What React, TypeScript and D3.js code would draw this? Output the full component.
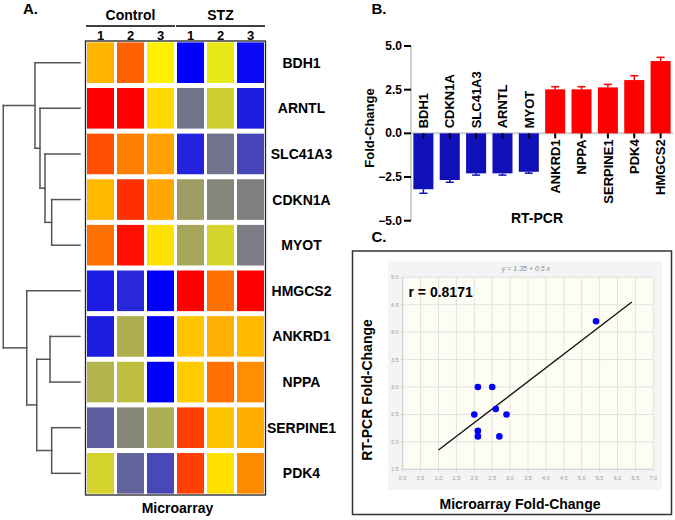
import React from "react";
import * as d3 from "d3";

// ---------- Data ----------
const genes = ["BDH1", "ARNTL", "SLC41A3", "CDKN1A", "MYOT", "HMGCS2", "ANKRD1", "NPPA", "SERPINE1", "PDK4"];
const groups = ["Control", "STZ"];
const replicates = ["1", "2", "3"];
// relative expression (blue -1, gray 0, yellow 1, red 2)
const heatBDH1 = [1.29, 1.61, 1.06, -1.0, 0.82, -0.93];
const heatARNTL = [2.0, 2.0, 1.15, -0.09, 0.62, -0.77];
const heatSLC41A3 = [1.69, 1.5, 1.37, -0.73, -0.11, -0.45];
const heatCDKN1A = [1.27, 1.81, 1.35, 0.22, 0.05, -0.01];
const heatMYOT = [1.56, 1.94, 1.11, 0.3, 0.66, -0.03];
const heatHMGCS2 = [-0.78, -0.69, -1.0, 2.0, 1.56, 2.0];
const heatANKRD1 = [-0.77, 0.37, -1.0, 1.23, 1.31, 1.27];
const heatNPPA = [0.41, 0.49, -1.0, 1.2, 1.56, 1.44];
const heatSERPINE1 = [-0.27, 0.06, 0.36, 1.76, 1.23, 1.33];
const heatPDK4 = [0.66, -0.22, -0.44, 1.75, 1.12, 1.45];
const heatRows = [heatBDH1, heatARNTL, heatSLC41A3, heatCDKN1A, heatMYOT, heatHMGCS2, heatANKRD1, heatNPPA, heatSERPINE1, heatPDK4];
const heatDomain = [-1, 0, 1, 2];
const heatColors = ["#0000ff", "#808080", "#ffff00", "#ff0000"];

// dendrogram (merge heights, 0..1)
const dendrogram = {
  h: 0.959,
  children: [
    { h: 0.5625, children: [{ leaf: "BDH1" }, { h: 0.5, children: [{ leaf: "ARNTL" }, { h: 0.4375, children: [{ leaf: "SLC41A3" }, { h: 0.354, children: [{ leaf: "CDKN1A" }, { leaf: "MYOT" }] }] }] }] },
    { h: 0.666, children: [{ leaf: "HMGCS2" }, { h: 0.541, children: [{ h: 0.375, children: [{ leaf: "ANKRD1" }, { leaf: "NPPA" }] }, { h: 0.354, children: [{ leaf: "SERPINE1" }, { leaf: "PDK4" }] }] }] },
  ],
};

const pcrGenes = ["BDH1", "CDKN1A", "SLC41A3", "ARNTL", "MYOT", "ANKRD1", "NPPA", "SERPINE1", "PDK4", "HMGCS2"];
const pcrValues = [-3.2, -2.67, -2.29, -2.29, -2.2, 2.52, 2.52, 2.63, 3.05, 4.14];
const pcrErrors = [0.23, 0.13, 0.1, 0.1, 0.08, 0.15, 0.15, 0.17, 0.25, 0.21];
const pcrTicks = [-5, -2.5, 0, 2.5, 5];

const microarrayFC = [2.1, 2.5, 2.0, 2.6, 2.9, 2.1, 2.1, 2.7, 5.4];
const rtpcrFC = [3.0, 3.0, 2.5, 2.6, 2.5, 2.2, 2.1, 2.1, 4.2];
const fitIntercept = 1.35;
const fitSlope = 0.5;
const fitRange = [1.0, 6.4];
const scatterXTicks = d3.range(0, 7.001, 0.5);
const scatterYTicks = d3.range(1.5, 5.001, 0.5);

const FONT = "'Liberation Sans', Arial, Helvetica, sans-serif";

export default function App() {
  // ---------- Heatmap ----------
  const cols = groups.flatMap((g) => replicates.map((r) => g + r));
  const hx = d3.scaleBand().domain(cols).range([85.5, 265.5]).paddingInner(0.1).paddingOuter(0.05);
  const hy = d3.scaleBand().domain(genes).range([41, 495]).paddingInner(0.11).paddingOuter(0.03);
  const hColor = d3.scaleLinear<string>().domain(heatDomain).range(heatColors).interpolate(d3.interpolateRgb).clamp(true);
  const dx = d3.scaleLinear().domain([0, 1]).range([80, 0]);

  const dendroLines: { x1: number; y1: number; x2: number; y2: number }[] = [];
  const layout = (node: any): { y: number; h: number } => {
    if (node.leaf) return { y: (hy(node.leaf) as number) + hy.bandwidth() / 2, h: 0 };
    const kids = node.children.map(layout);
    const ys = kids.map((k: any) => k.y);
    const x = dx(node.h);
    dendroLines.push({ x1: x, y1: d3.min(ys) as number, x2: x, y2: d3.max(ys) as number });
    kids.forEach((k: any) => dendroLines.push({ x1: dx(k.h), y1: k.y, x2: x, y2: k.y }));
    return { y: (d3.min(ys)! + d3.max(ys)!) / 2, h: node.h };
  };
  layout(dendrogram);

  // ---------- Bar chart ----------
  const bx = d3.scaleBand().domain(pcrGenes).range([411, 673]).paddingInner(0.24).paddingOuter(0.09);
  const by = d3.scaleLinear().domain([-5, 5]).range([220.7, 46]);
  const blue = "#1010b8";
  const red = "#ff0000";

  // ---------- Scatter ----------
  const sx = d3.scaleLinear().domain([0, 7]).range([402.7, 653.3]);
  const sy = d3.scaleLinear().domain([1.5, 5]).range([469.3, 277.3]);
  const fitLine = d3.line<number>().x((d) => sx(d)).y((d) => sy(fitIntercept + fitSlope * d));

  return (
    <svg width={675} height={520} style={{ position: "absolute", left: 0, top: 0, background: "#fff" }} fontFamily={FONT}>
      {/* Panel A */}
      <text x={23} y={14} fontSize={15} fontWeight="bold">A.</text>
      {groups.map((g) => {
        const x0 = hx(g + replicates[0]) as number;
        const x1 = (hx(g + replicates[2]) as number) + hx.bandwidth();
        return (
          <g key={g}>
            <text x={(x0 + x1) / 2} y={20} textAnchor="middle" fontSize={14} fontWeight="bold">{g}</text>
            <line x1={x0 - 1} x2={x1 + 1} y1={26} y2={26} stroke="#000" strokeWidth={1.6} />
          </g>
        );
      })}
      {cols.map((c, i) => (
        <text key={c} x={(hx(c) as number) + hx.bandwidth() / 2} y={39.5} textAnchor="middle" fontSize={13} fontWeight="bold">
          {replicates[i % 3]}
        </text>
      ))}
      <rect x={85.5} y={41} width={180} height={454} fill="#fff" stroke="#222" strokeWidth={1.3} />
      {heatRows.map((row, ri) =>
        row.map((v, ci) => (
          <rect key={ri + "-" + ci} x={hx(cols[ci])} y={hy(genes[ri])} width={hx.bandwidth()} height={hy.bandwidth()} fill={hColor(v)} />
        ))
      )}
      {genes.map((g) => (
        <text key={g} x={301.5} y={(hy(g) as number) + hy.bandwidth() / 2 + 5} textAnchor="middle" fontSize={14} fontWeight="bold">{g}</text>
      ))}
      {dendroLines.map((l, i) => (
        <line key={i} x1={l.x1} y1={l.y1} x2={l.x2} y2={l.y2} stroke="#555" strokeWidth={1.5} strokeLinecap="square" />
      ))}
      <text x={177.5} y={513} textAnchor="middle" fontSize={14} fontWeight="bold">Microarray</text>

      {/* Panel B */}
      <text x={371.5} y={13.5} fontSize={15} fontWeight="bold">B.</text>
      <line x1={411} x2={411} y1={by(5)} y2={by(-5)} stroke="#cfcfcf" strokeWidth={2} />
      <line x1={411} x2={673} y1={by(0)} y2={by(0)} stroke="#cfcfcf" strokeWidth={2} />
      {pcrTicks.map((t) => (
        <g key={t}>
          <line x1={404} x2={411} y1={by(t)} y2={by(t)} stroke="#000" strokeWidth={2} />
          <text x={402} y={by(t) + 4} textAnchor="end" fontSize={12} fontWeight="bold">{d3.format(".1f")(t)}</text>
        </g>
      ))}
      {pcrGenes.map((g, i) => {
        const v = pcrValues[i];
        const e = pcrErrors[i];
        const x = bx(g) as number;
        const w = bx.bandwidth();
        const cx = x + w / 2;
        const col = v < 0 ? blue : red;
        const yEnd = by(v + (v < 0 ? -e : e));
        return (
          <g key={g}>
            <line x1={cx} x2={cx} y1={by(v)} y2={yEnd} stroke={col} strokeWidth={1.5} />
            <line x1={cx - 4} x2={cx + 4} y1={yEnd} y2={yEnd} stroke={col} strokeWidth={1.5} />
            <rect x={x} y={Math.min(by(0), by(v))} width={w} height={Math.abs(by(v) - by(0))} fill={col} />
            <line x1={cx} x2={cx} y1={by(0)} y2={by(0) + 5} stroke="#000" strokeWidth={2} />
            {v < 0 ? (
              <text transform={`translate(${cx},${by(0) - 5}) rotate(-90)`} dy="0.36em" textAnchor="start" fontSize={13} fontWeight="bold">{g}</text>
            ) : (
              <text transform={`translate(${cx},${by(0) + 6}) rotate(-90)`} dy="0.36em" textAnchor="end" fontSize={13} fontWeight="bold">{g}</text>
            )}
          </g>
        );
      })}
      <text transform="translate(374,128) rotate(-90)" textAnchor="middle" fontSize={13} fontWeight="bold">Fold-Change</text>
      <text x={537} y={223} textAnchor="middle" fontSize={14} fontWeight="bold">RT-PCR</text>

      {/* Panel C */}
      <text x={371.5} y={241.5} fontSize={15} fontWeight="bold">C.</text>
      <rect x={352.5} y={251} width={319} height={263.5} fill="#fff" stroke="#333" strokeWidth={1.5} />
      <rect x={388} y={261} width={274} height={229} fill="#f4f4f4" />
      <rect x={sx(0)} y={sy(5)} width={sx(7) - sx(0)} height={sy(1.5) - sy(5)} fill="#fefdf4" />
      {scatterXTicks.map((t) => (
        <g key={"x" + t}>
          <line x1={sx(t)} x2={sx(t)} y1={sy(5)} y2={sy(1.5) + 3} stroke="#e2e2e2" strokeWidth={1} />
          <text x={sx(t)} y={sy(1.5) + 11} textAnchor="middle" fontSize={5.5} fill="#9a9a9a">{d3.format(".1f")(t)}</text>
        </g>
      ))}
      {scatterYTicks.map((t) => (
        <g key={"y" + t}>
          <line x1={sx(0) - 3} x2={sx(7)} y1={sy(t)} y2={sy(t)} stroke="#e2e2e2" strokeWidth={1} />
          <text x={sx(0) - 4} y={sy(t) + 2} textAnchor="end" fontSize={5.5} fill="#9a9a9a">{d3.format(".1f")(t)}</text>
        </g>
      ))}
      <line x1={sx(0)} x2={sx(0)} y1={sy(5)} y2={sy(1.5)} stroke="#cfcfcf" strokeWidth={1} />
      <line x1={sx(0)} x2={sx(7)} y1={sy(1.5)} y2={sy(1.5)} stroke="#cfcfcf" strokeWidth={1} />
      <text x={526} y={271} textAnchor="middle" fontSize={7} fontStyle="italic" fill="#8a8a8a">y = 1.35 + 0.5 x</text>
      <path d={fitLine(fitRange) as string} fill="none" stroke="#111" strokeWidth={1.3} />
      {microarrayFC.map((m, i) => (
        <circle key={i} cx={sx(m)} cy={sy(rtpcrFC[i])} r={3.3} fill="#0000ff" />
      ))}
      <text x={408.5} y={297} fontSize={14} fontWeight="bold">r = 0.8171</text>
      <text transform="translate(372,390) rotate(-90)" textAnchor="middle" fontSize={14} fontWeight="bold">RT-PCR Fold-Change</text>
      <text x={520} y={509} textAnchor="middle" fontSize={14} fontWeight="bold">Microarray Fold-Change</text>
    </svg>
  );
}
